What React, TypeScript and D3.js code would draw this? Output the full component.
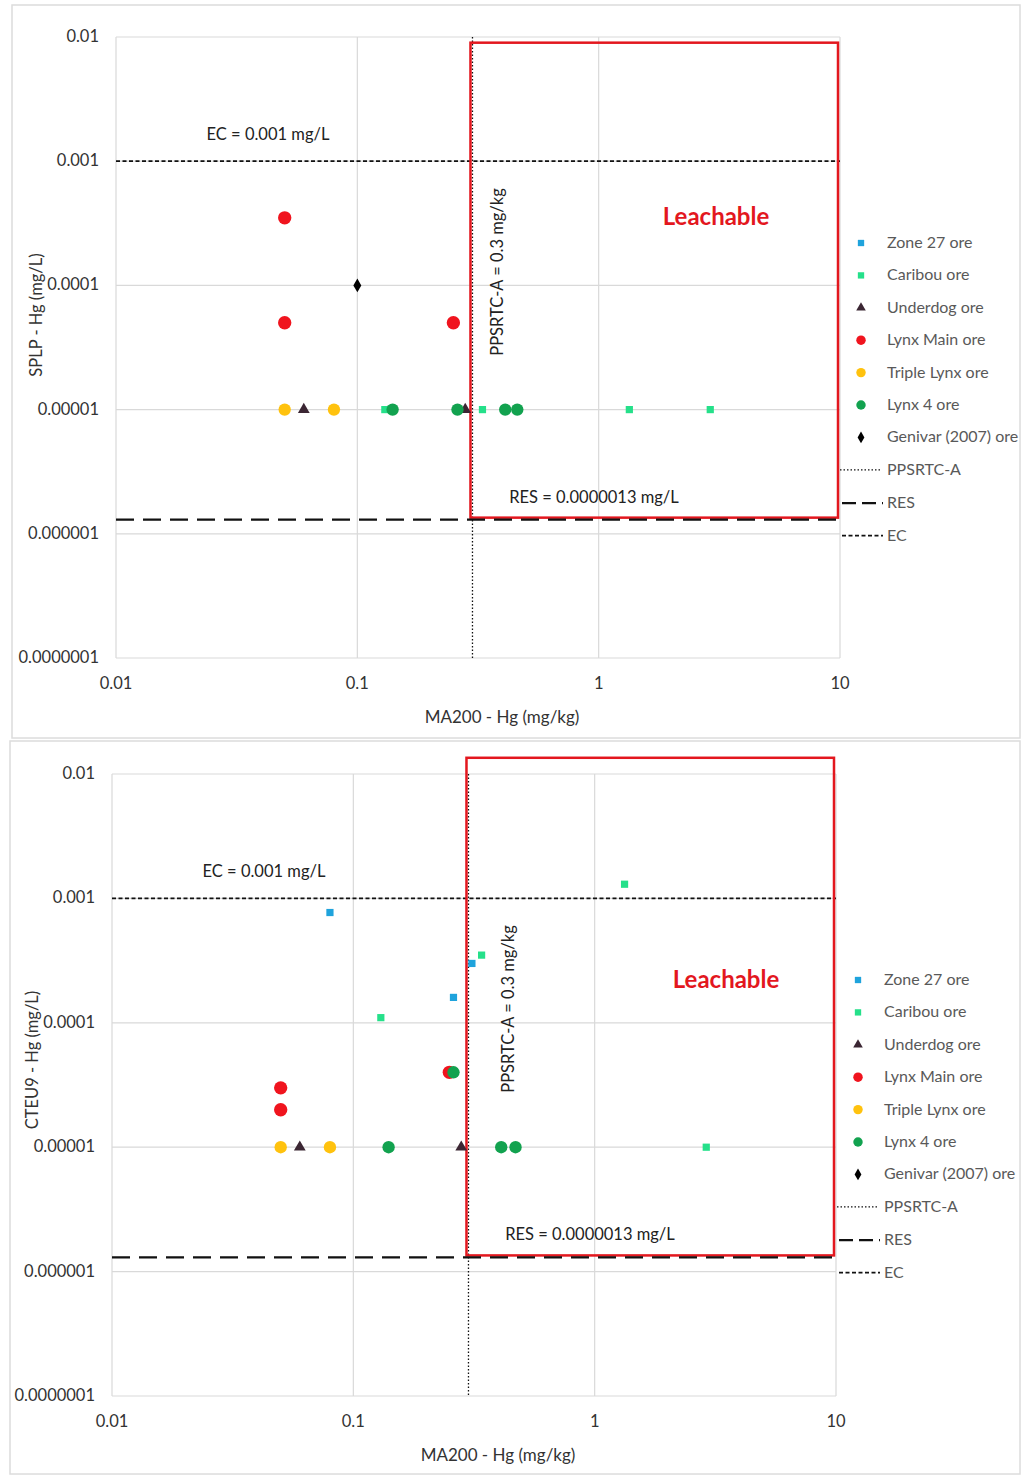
import React, { useEffect, useRef } from 'react';
import * as d3 from 'd3';

// axis ticks
const xTicks = [0.01, 0.1, 1, 10];
const xTickLabels = ['0.01', '0.1', '1', '10'];
const yTicks = [0.01, 0.001, 0.0001, 0.00001, 0.000001, 0.0000001];
const yTickLabels = ['0.01', '0.001', '0.0001', '0.00001', '0.000001', '0.0000001'];

// criteria
const ecValue = 0.001;
const resValue = 0.0000013;
const ppsrtcValue = 0.3;

// series names
const seriesNames = ['Zone 27 ore', 'Caribou ore', 'Underdog ore', 'Lynx Main ore', 'Triple Lynx ore', 'Lynx 4 ore', 'Genivar (2007) ore'];

// SPLP (top chart) [MA200, leachate]
const splpZone27: [number, number][] = [];
const splpCaribou: [number, number][] = [[0.13, 0.00001], [0.33, 0.00001], [1.34, 0.00001], [2.9, 0.00001]];
const splpUnderdog: [number, number][] = [[0.06, 0.00001], [0.28, 0.00001]];
const splpLynxMain: [number, number][] = [[0.05, 0.00035], [0.05, 0.00005], [0.25, 0.00005]];
const splpTripleLynx: [number, number][] = [[0.05, 0.00001], [0.08, 0.00001]];
const splpLynx4: [number, number][] = [[0.14, 0.00001], [0.26, 0.00001], [0.41, 0.00001], [0.46, 0.00001]];
const splpGenivar: [number, number][] = [[0.1, 0.0001]];

// CTEU9 (bottom chart)
const cteuZone27: [number, number][] = [[0.08, 0.00077], [0.31, 0.0003], [0.26, 0.00016]];
const cteuCaribou: [number, number][] = [[1.33, 0.0013], [0.34, 0.00035], [0.13, 0.00011], [2.9, 0.00001]];
const cteuUnderdog: [number, number][] = [[0.06, 0.00001], [0.28, 0.00001]];
const cteuLynxMain: [number, number][] = [[0.05, 0.00003], [0.05, 0.00002], [0.25, 0.00004]];
const cteuTripleLynx: [number, number][] = [[0.05, 0.00001], [0.08, 0.00001]];
const cteuLynx4: [number, number][] = [[0.26, 0.00004], [0.14, 0.00001], [0.41, 0.00001], [0.47, 0.00001]];
const cteuGenivar: [number, number][] = [];

const styles = [
  { color: '#1fa3dc', symbol: d3.symbolSquare, size: 52, legendSize: 40 },
  { color: '#25e08a', symbol: d3.symbolSquare, size: 52, legendSize: 40 },
  { color: '#3b2633', symbol: d3.symbolTriangle, size: 60, legendSize: 40 },
  { color: '#f0141e', symbol: d3.symbolCircle, size: 140, legendSize: 70 },
  { color: '#ffc20e', symbol: d3.symbolCircle, size: 120, legendSize: 70 },
  { color: '#12a24f', symbol: d3.symbolCircle, size: 120, legendSize: 70 },
  { color: '#000000', symbol: d3.symbolDiamond, size: 55, legendSize: 40 },
];

const font = 'Lato, "Open Sans", sans-serif';

type Cfg = {
  frame: [number, number, number, number];
  left: number; right: number; top: number; bottom: number;
  boxTop: number;
  yTitle: string;
  yTitleY: number;
  leach: [number, number];
  ppsLabelDx: number;
  legendX: number;
  legendY: number;
  series: [number, number][][];
};

const charts: Cfg[] = [
  {
    frame: [12, 5, 1008, 733],
    left: 116, right: 840, top: 37, bottom: 658,
    boxTop: 0.009,
    yTitle: 'SPLP - Hg (mg/L)',
    yTitleY: 315,
    leach: [600, 188],
    ppsLabelDx: 31,
    legendX: 861, legendY: 243,
    series: [splpZone27, splpCaribou, splpUnderdog, splpLynxMain, splpTripleLynx, splpLynx4, splpGenivar],
  },
  {
    frame: [10, 741, 1010, 733],
    left: 112, right: 836, top: 774, bottom: 1396,
    boxTop: 0.0135,
    yTitle: 'CTEU9 - Hg (mg/L)',
    yTitleY: 1060,
    leach: [614, 214],
    ppsLabelDx: 46,
    legendX: 858, legendY: 980,
    series: [cteuZone27, cteuCaribou, cteuUnderdog, cteuLynxMain, cteuTripleLynx, cteuLynx4, cteuGenivar],
  },
];

function drawChart(svg: any, cfg: Cfg) {
  const g = svg.append('g');
  const x = d3.scaleLog().domain([0.01, 10]).range([cfg.left, cfg.right]);
  const y = d3.scaleLog().domain([0.0000001, 0.01]).range([cfg.bottom, cfg.top]);

  // outer frame
  g.append('rect')
    .attr('x', cfg.frame[0]).attr('y', cfg.frame[1])
    .attr('width', cfg.frame[2]).attr('height', cfg.frame[3])
    .attr('fill', 'none').attr('stroke', '#dcdcdc').attr('stroke-width', 1.5);

  // gridlines
  g.selectAll('.vg').data(xTicks).join('line')
    .attr('x1', (d: number) => x(d)).attr('x2', (d: number) => x(d))
    .attr('y1', cfg.top).attr('y2', cfg.bottom)
    .attr('stroke', '#d9d9d9').attr('stroke-width', 1.2);
  g.selectAll('.hg').data(yTicks).join('line')
    .attr('y1', (d: number) => y(d)).attr('y2', (d: number) => y(d))
    .attr('x1', cfg.left).attr('x2', cfg.right)
    .attr('stroke', '#d9d9d9').attr('stroke-width', 1.2);

  // tick labels
  g.selectAll('.yt').data(yTicks).join('text')
    .attr('x', cfg.left - 17).attr('y', (d: number) => y(d) + 5)
    .attr('text-anchor', 'end')
    .style('font-family', font).style('font-size', '16.5px').attr('fill', '#333')
    .text((d: number, i: number) => yTickLabels[i]);
  g.selectAll('.xt').data(xTicks).join('text')
    .attr('x', (d: number) => x(d)).attr('y', cfg.bottom + 31)
    .attr('text-anchor', 'middle')
    .style('font-family', font).style('font-size', '16.5px').attr('fill', '#333')
    .text((d: number, i: number) => xTickLabels[i]);

  // axis titles
  g.append('text')
    .attr('x', cfg.left + 386).attr('y', cfg.bottom + 65)
    .attr('text-anchor', 'middle')
    .style('font-family', font).style('font-size', '17px').attr('fill', '#333')
    .text('MA200 - Hg (mg/kg)');
  g.append('text')
    .attr('transform', `translate(${cfg.left - 74},${cfg.yTitleY}) rotate(-90)`)
    .attr('text-anchor', 'middle')
    .style('font-family', font).style('font-size', '16.5px').attr('fill', '#333')
    .text(cfg.yTitle);

  // EC line
  g.append('line')
    .attr('x1', cfg.left).attr('x2', cfg.right)
    .attr('y1', y(ecValue)).attr('y2', y(ecValue))
    .attr('stroke', '#111').attr('stroke-width', 1.8).attr('stroke-dasharray', '4,2.5');
  g.append('text')
    .attr('x', cfg.left + 152).attr('y', y(ecValue) - 21)
    .attr('text-anchor', 'middle')
    .style('font-family', font).style('font-size', '16.5px').attr('fill', '#222')
    .text('EC = 0.001 mg/L');

  // PPSRTC-A line
  g.append('line')
    .attr('x1', x(ppsrtcValue)).attr('x2', x(ppsrtcValue))
    .attr('y1', cfg.top).attr('y2', cfg.bottom)
    .attr('stroke', '#111').attr('stroke-width', 1.3).attr('stroke-dasharray', '1.5,2');
  g.append('text')
    .attr('transform', `translate(${x(ppsrtcValue) + cfg.ppsLabelDx},${cfg.top + 235}) rotate(-90)`)
    .attr('text-anchor', 'middle')
    .style('font-family', font).style('font-size', '16.5px').attr('fill', '#222')
    .text('PPSRTC-A = 0.3 mg/kg');

  // leachable box
  g.append('rect')
    .attr('x', x(ppsrtcValue) - 2).attr('y', y(cfg.boxTop))
    .attr('width', x(10) - x(ppsrtcValue))
    .attr('height', y(resValue) - y(cfg.boxTop) - 2)
    .attr('fill', 'none').attr('stroke', '#e3171e').attr('stroke-width', 2.5);
  g.append('text')
    .attr('x', cfg.left + cfg.leach[0]).attr('y', cfg.top + cfg.leach[1])
    .attr('text-anchor', 'middle')
    .style('font-family', font).style('font-size', '24px').style('font-weight', 'bold')
    .attr('fill', '#e3171e')
    .text('Leachable');

  // RES line
  g.append('line')
    .attr('x1', cfg.left).attr('x2', cfg.right)
    .attr('y1', y(resValue)).attr('y2', y(resValue))
    .attr('stroke', '#111').attr('stroke-width', 2.2).attr('stroke-dasharray', '18,9');
  g.append('text')
    .attr('x', cfg.left + 478).attr('y', y(resValue) - 17)
    .attr('text-anchor', 'middle')
    .style('font-family', font).style('font-size', '16.5px').attr('fill', '#222')
    .text('RES = 0.0000013 mg/L');

  // points
  cfg.series.forEach((pts, i) => {
    const st = styles[i];
    g.selectAll(`.s${i}`).data(pts).join('path')
      .attr('d', d3.symbol().type(st.symbol).size(st.size)())
      .attr('transform', (d: [number, number]) => `translate(${x(d[0])},${y(d[1])})`)
      .attr('fill', st.color);
  });

  // legend
  const lg = g.append('g').attr('transform', `translate(${cfg.legendX},${cfg.legendY})`);
  const step = 32.4;
  seriesNames.forEach((name, i) => {
    const st = styles[i];
    lg.append('path')
      .attr('d', d3.symbol().type(st.symbol).size(st.legendSize)())
      .attr('transform', `translate(0,${i * step})`)
      .attr('fill', st.color);
    lg.append('text')
      .attr('x', 26).attr('y', i * step + 5)
      .style('font-family', font).style('font-size', '16px').attr('fill', '#595959')
      .text(name);
  });
  const lines = [
    { name: 'PPSRTC-A', dash: '1.5,2', w: 1.3, x1: -21, x2: 20, tx: 26 },
    { name: 'RES', dash: '14,6', w: 2.2, x1: -19, x2: 22, tx: 26 },
    { name: 'EC', dash: '4,2.5', w: 1.8, x1: -19, x2: 22, tx: 26 },
  ];
  lines.forEach((l, j) => {
    const yy = (7 + j) * step + (j === 0 ? 0 : 1);
    lg.append('line')
      .attr('x1', l.x1).attr('x2', l.x2).attr('y1', yy).attr('y2', yy)
      .attr('stroke', '#111').attr('stroke-width', l.w).attr('stroke-dasharray', l.dash);
    lg.append('text')
      .attr('x', l.tx).attr('y', yy + 5)
      .style('font-family', font).style('font-size', '16px').attr('fill', '#595959')
      .text(l.name);
  });
}

export default function App() {
  const ref = useRef<SVGSVGElement | null>(null);

  useEffect(() => {
    const element = ref.current;
    if (!element) return;
    const svg = d3.select(element);
    svg.selectAll('*').remove();
    svg.append('rect').attr('width', 1023).attr('height', 1475).attr('fill', '#fff');
    charts.forEach((c) => drawChart(svg, c));
  }, []);

  return (
    <svg
      ref={ref}
      width={1023}
      height={1475}
      style={{ position: 'absolute', left: 0, top: 0, display: 'block' }}
    />
  );
}
